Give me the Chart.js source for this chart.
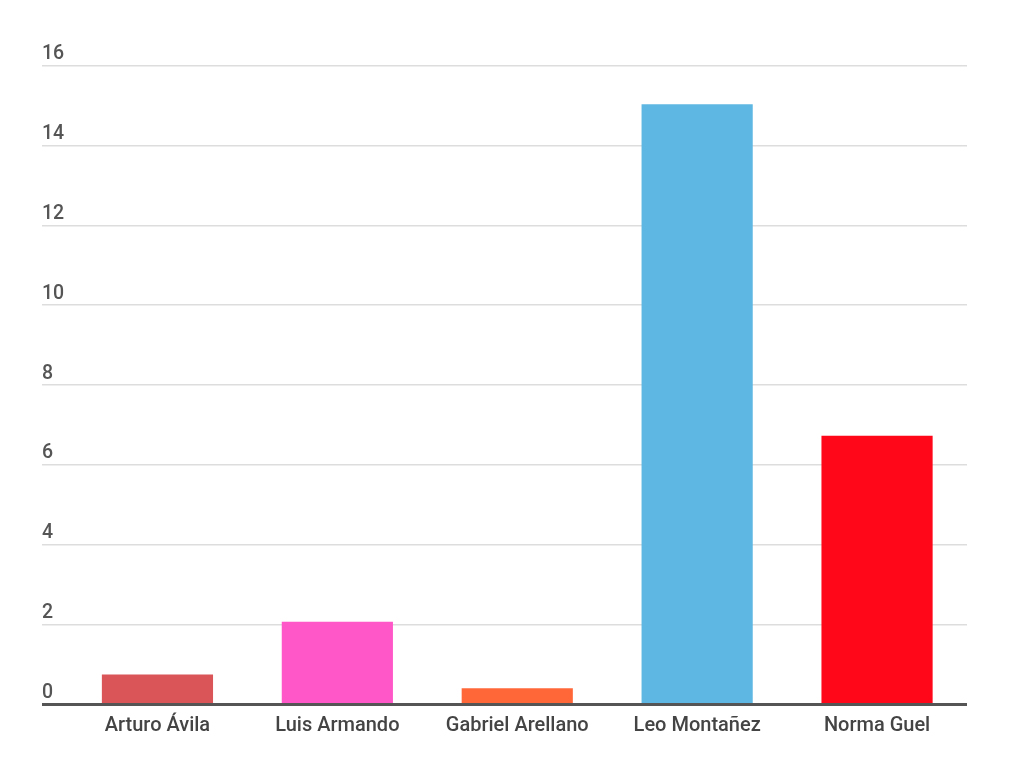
<!DOCTYPE html>
<html>
<head>
<meta charset="utf-8">
<script src="https://cdn.jsdelivr.net/npm/chart.js@4.4.1/dist/chart.umd.min.js"></script>
<style>
  html, body { margin: 0; padding: 0; background: #ffffff; }
  #wrap { width: 1024px; height: 778px; }
</style>
</head>
<body>
<div id="wrap"><canvas id="c" width="1024" height="778"></canvas></div>
<script>
const categories = ['Arturo Ávila', 'Luis Armando', 'Gabriel Arellano', 'Leo Montañez', 'Norma Guel'];
const values = [0.75, 2.07, 0.41, 15.03, 6.73];
const barColors = ['#DA5558', '#FF56C8', '#FF6638', '#5EB7E2', '#FF0718'];
const yTicks = [0, 2, 4, 6, 8, 10, 12, 14, 16];

const yLabelPlugin = {
  id: 'yLabels',
  afterDraw(chart) {
    const ys = chart.scales.y;
    const ctx = chart.ctx;
    ctx.save();
    ctx.font = '500 19.5px Roboto, "Noto Sans", sans-serif';
    ctx.fillStyle = '#555555';
    ctx.textAlign = 'left';
    ctx.textBaseline = 'alphabetic';
    ys.ticks.forEach(t => {
      const py = ys.getPixelForValue(t.value);
      ctx.fillText(String(t.value), 42, py - 6.5);
    });
    ctx.restore();
  }
};

new Chart(document.getElementById('c'), {
  type: 'bar',
  data: {
    labels: categories,
    datasets: [{
      data: values,
      backgroundColor: barColors,
      borderWidth: 0,
      barPercentage: 0.618,
      categoryPercentage: 1.0
    }]
  },
  options: {
    responsive: false,
    animation: false,
    devicePixelRatio: 1,
    layout: { padding: { left: 42, right: 57, top: 65.5, bottom: 30.5 } },
    plugins: { legend: { display: false }, tooltip: { enabled: false } },
    scales: {
      x: {
        grid: { display: false, drawTicks: false },
        border: { display: false },
        ticks: {
          color: '#444444',
          font: { family: 'Roboto', size: 20, weight: '500' },
          padding: 9.5,
          maxRotation: 0
        }
      },
      y: {
        min: 0,
        max: 16,
        afterBuildTicks(scale) { scale.ticks = yTicks.map(v => ({ value: v })); },
        border: { display: false },
        grid: {
          drawTicks: true,
          tickLength: 25.5,
          color: ctx => (ctx.tick && ctx.tick.value === 0) ? '#555555' : '#dddddd',
          tickColor: ctx => (ctx.tick && ctx.tick.value === 0) ? '#555555' : '#dddddd',
          lineWidth: ctx => (ctx.tick && ctx.tick.value === 0) ? 3 : 1.5
        },
        ticks: { display: false }
      }
    }
  },
  plugins: [yLabelPlugin]
});
</script>
</body>
</html>
